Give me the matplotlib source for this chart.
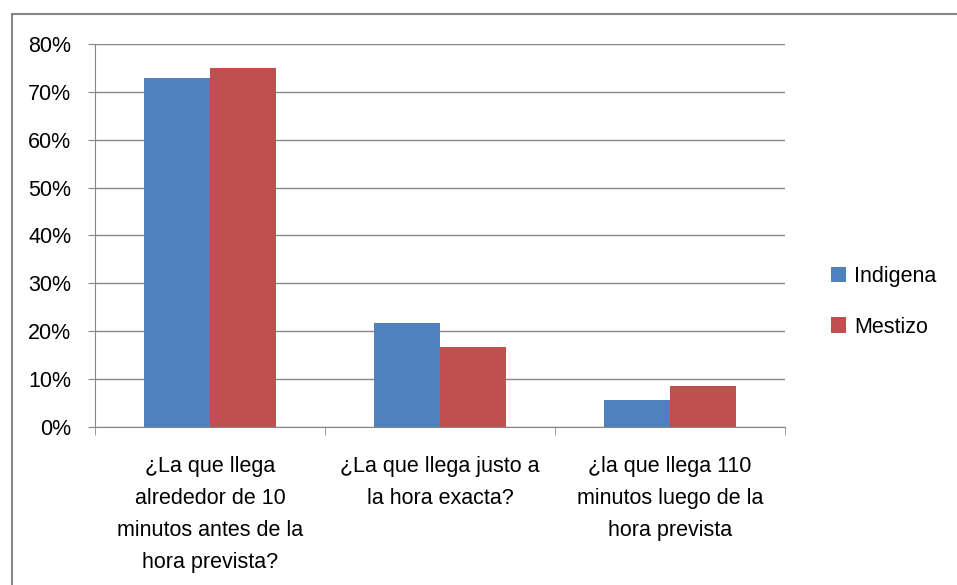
import matplotlib
matplotlib.use('Agg')
import matplotlib.pyplot as plt
import numpy as np
from matplotlib.patches import Rectangle

plt.rcParams['font.family'] = ['Liberation Sans', 'DejaVu Sans']

categories = ['¿La que llega\nalrededor de 10\nminutos antes de la\nhora prevista?',
              '¿La que llega justo a\nla hora exacta?',
              '¿la que llega 110\nminutos luego de la\nhora prevista']
indigena = [72.8, 21.7, 5.6]
mestizo = [75.0, 16.8, 8.5]
series_names = ['Indigena', 'Mestizo']
colors = ['#4F81BD', '#C0504D']

fig = plt.figure(figsize=(9.57, 5.85), dpi=100)
# chart area border
fig.patches.append(Rectangle((12/957, -0.1), 1.2, 1 - 14/585 + 0.1, transform=fig.transFigure,
                             fill=False, edgecolor='#868686', linewidth=1.5))

ax = fig.add_axes([95/957, 1 - 427/585, 690/957, 383/585])
x = np.arange(len(categories))
w = 0.287
ax.bar(x - w/2, indigena, w, color=colors[0], label=series_names[0], zorder=3)
ax.bar(x + w/2, mestizo, w, color=colors[1], label=series_names[1], zorder=3)

ax.set_xlim(-0.5, len(categories) - 0.5)
ax.set_ylim(0, 80)
ax.set_yticks(np.arange(0, 81, 10))
ax.set_yticklabels(['%d%%' % v for v in range(0, 81, 10)], fontsize=15.5)
ax.yaxis.grid(True, color='#868686', linewidth=1, zorder=0)
ax.tick_params(axis='y', length=5, color='#868686', pad=12)

ax.set_xticks(x)
ax.set_xticklabels([])
ax.tick_params(axis='x', which='major', length=0)
ax.set_xticks(np.arange(-0.5, len(categories)), minor=True)
ax.tick_params(axis='x', which='minor', length=6, color='#868686')
for i, lab in enumerate(categories):
    ax.text(i, -0.075, lab, transform=ax.get_xaxis_transform(), ha='center', va='top',
            fontsize=15.5, linespacing=1.7)

for s in ['top', 'right']:
    ax.spines[s].set_visible(False)
for s in ['left', 'bottom']:
    ax.spines[s].set_color('#868686')

leg = fig.legend(loc='center left', bbox_to_anchor=(812/957, 1 - 302/585), frameon=False,
                 fontsize=15.5, handlelength=0.7, handleheight=0.7, handletextpad=0.35,
                 labelspacing=1.35)

fig.savefig('out.png', dpi=100)
